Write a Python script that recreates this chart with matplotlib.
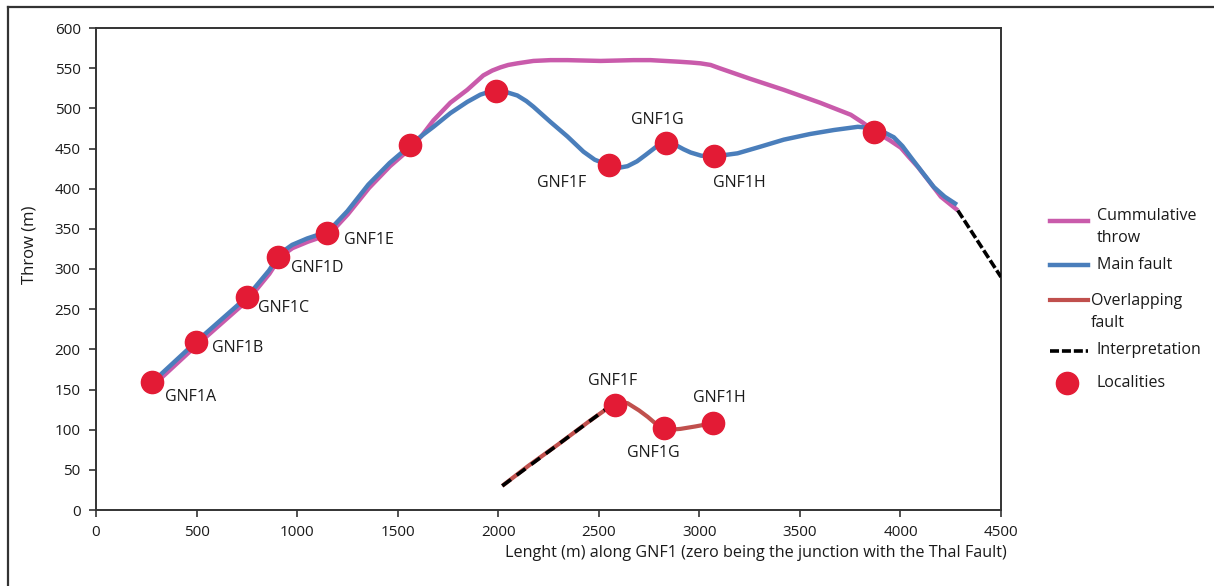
import matplotlib
matplotlib.use("Agg")
import matplotlib.pyplot as plt
from matplotlib.lines import Line2D

plt.rcParams['font.family'] = ['Open Sans', 'DejaVu Sans']

# ---------------- data ----------------
main_x = [280, 496, 750, 860, 904, 930, 975, 1050, 1110, 1148, 1250, 1354, 1460, 1563,
          1620, 1678, 1762, 1846, 1911, 1960, 1991, 2030, 2095, 2140, 2175, 2260, 2344,
          2424, 2480, 2553, 2600, 2643, 2690, 2733, 2790, 2832, 2870, 2922, 2957, 3010,
          3071, 3130, 3190, 3300, 3420, 3550, 3669, 3788, 3840, 3868, 3920, 3967, 4010,
          4052, 4110, 4166, 4220, 4281]
main_y = [159, 209, 265, 298, 315, 322, 330, 338, 343, 345, 372, 405, 432, 454,
          466, 477, 494, 508, 517, 521, 522, 521, 516, 509, 502, 483, 465,
          446, 436, 429, 426, 428, 434, 442, 453, 457, 456, 449, 445, 441,
          441, 442, 444, 452, 461, 468, 473, 477, 476, 474, 470, 464, 453,
          439, 420, 402, 390, 380]

cum_x = [284, 500, 754, 862, 906, 932, 977, 1054, 1112, 1152, 1252, 1358, 1462, 1563,
         1620, 1678, 1720, 1762, 1846, 1926, 1970, 2011, 2050, 2095, 2175, 2260, 2344,
         2509, 2673, 2757, 2900, 2960, 3006, 3056, 3100, 3250, 3420, 3600, 3753, 3814,
         3868, 3948, 4002, 4040, 4087, 4140, 4201, 4285]
cum_y = [155, 205, 261, 294, 311, 318, 326, 334, 339, 341, 368, 401, 428, 450,
         466, 485, 496, 507, 523, 541, 547, 551, 554, 556, 559, 560, 560,
         559, 560, 560, 558, 557, 556, 554, 550, 537, 523, 507, 492, 482,
         472, 460, 451, 440, 427, 410, 390, 373]

interp_x = [4285, 4500]
interp_y = [373, 290]

overlap_x = [2020, 2150, 2300, 2450, 2540, 2583, 2615, 2643, 2700, 2743, 2790, 2822,
             2860, 2907, 2980, 3066]
overlap_y = [30, 55, 82, 110, 126, 131, 134, 133, 124, 116, 106, 102,
             100, 101, 104, 108]

overlap_interp_x = [2020, 2543]
overlap_interp_y = [30, 127]

loc_x = [280, 496, 750, 904, 1148, 1563, 1991, 2553, 2832, 3071, 3868, 2583, 2822, 3066]
loc_y = [159, 209, 265, 315, 345, 454, 521, 429, 457, 441, 471, 131, 102, 108]

label_text = ["GNF1A", "GNF1B", "GNF1C", "GNF1D", "GNF1E", "GNF1F", "GNF1G", "GNF1H",
              "GNF1F", "GNF1G", "GNF1H"]
label_x = [343, 577, 806, 970, 1233, 2193, 2660, 3068, 2446, 2640, 2968]
label_y = [141, 202, 251, 301, 336, 407, 485, 407, 161, 71, 139]

x_ticks = [0, 500, 1000, 1500, 2000, 2500, 3000, 3500, 4000, 4500]
y_ticks = [0, 50, 100, 150, 200, 250, 300, 350, 400, 450, 500, 550, 600]

legend_labels = ["Cummulative\nthrow", "Main fault", "Overlapping\nfault",
                 "Interpretation", "Localities"]

# ---------------- style ----------------
PINK = "#c95bab"
BLUE = "#4a7ebb"
BROWN = "#c0504d"
RED = "#e31b35"
TXT = "#1a1a1a"

W, H = 1214, 586
fig = plt.figure(figsize=(W / 100, H / 100), dpi=100)
ax = fig.add_axes([96 / W, 1 - 510 / H, 905 / W, 482 / H])

common = dict(solid_joinstyle='round', solid_capstyle='butt')
ax.plot(cum_x, cum_y, color=PINK, lw=3.2, zorder=2, **common)
ax.plot(main_x, main_y, color=BLUE, lw=3.2, zorder=3, **common)
ax.plot(interp_x, interp_y, color='black', lw=2.6, ls=(0, (2.5, 0.8)), zorder=3)
ax.plot(overlap_x, overlap_y, color=BROWN, lw=3.0, zorder=2, **common)
ax.plot(overlap_interp_x, overlap_interp_y, color='black', lw=2.6, ls=(0, (3, 2)), zorder=3)
ax.plot(loc_x, loc_y, ls='none', marker='o', ms=16, color=RED, mec=RED, zorder=5)

for t, x, y in zip(label_text, label_x, label_y):
    ax.text(x, y, t, ha='left', va='center', fontsize=11.5, color=TXT, zorder=6)

ax.set_xlim(0, 4500)
ax.set_ylim(0, 600)
ax.set_xticks(x_ticks)
ax.set_yticks(y_ticks)
ax.tick_params(axis='both', direction='out', length=5, width=1.2, color='#333333',
               labelsize=11, labelcolor=TXT, pad=6)
for s in ax.spines.values():
    s.set_color('#333333')
    s.set_linewidth(1.4)

ax.set_ylabel("Throw (m)", fontsize=12, color=TXT)
ax.yaxis.set_label_coords(-0.065, 0.55)
ax.set_xlabel("Lenght (m) along GNF1 (zero being the junction with the Thal Fault)",
              fontsize=11.6, color=TXT)
ax.xaxis.set_label_coords(0.729, -0.072)

# outer frame (left and top edges)
fig.add_artist(Line2D([8 / W, 8 / W], [0, 1 - 7 / H], color='#333333', lw=1.6,
                      transform=fig.transFigure))
fig.add_artist(Line2D([8 / W, 1], [1 - 7 / H, 1 - 7 / H], color='#333333', lw=1.6,
                      transform=fig.transFigure))

# legend drawn by hand
def fx(px):
    return px / W

def fy(py):
    return 1 - py / H

leg_lines = [
    dict(color=PINK, lw=3.2, ls='-', y=221),
    dict(color=BLUE, lw=3.2, ls='-', y=265),
    dict(color=BROWN, lw=3.0, ls='-', y=300),
    dict(color='black', lw=2.6, ls=(0, (2.5, 0.8)), y=351),
]
for d in leg_lines:
    fig.add_artist(Line2D([fx(1050), fx(1088)], [fy(d['y']), fy(d['y'])],
                          color=d['color'], lw=d['lw'], ls=d['ls'],
                          transform=fig.transFigure))
fig.add_artist(Line2D([fx(1067)], [fy(383)], marker='o', ms=16, color=RED, ls='none',
                      transform=fig.transFigure))

leg_text_pos = [(1097, 227), (1097, 265), (1091, 312), (1097, 350), (1097, 383)]
for t, (px, py) in zip(legend_labels, leg_text_pos):
    fig.text(fx(px), fy(py), t, ha='left', va='center', fontsize=11.5, color=TXT,
             linespacing=1.5)

fig.savefig("out.png", dpi=100, facecolor='white')
